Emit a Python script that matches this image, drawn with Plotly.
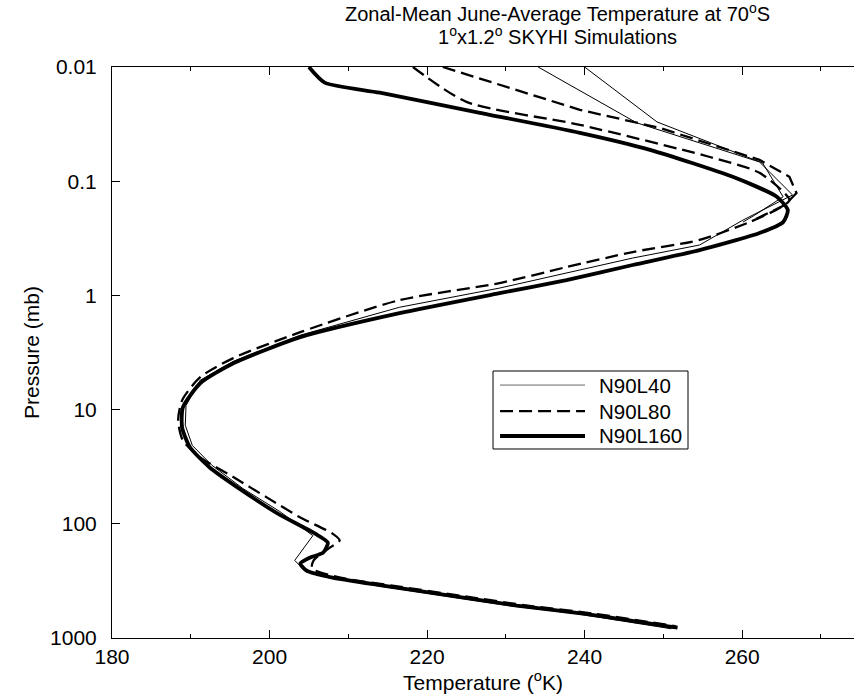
import plotly.graph_objects as go

# ---------------- data ----------------
# N90L160 (thick solid)
l160_T = [205.0, 207.0, 214.0, 226.7, 239.4, 248.3, 258.8, 264.4, 265.8, 265.2, 262.2,
          254.6, 246.1, 237.7, 229.2, 216.5, 203.9, 195.4, 191.2, 189.0, 188.9,
          189.9, 192.4, 196.5, 201.0, 205.8, 207.4, 206.8, 205.1, 203.9, 204.7,
          208.0, 214.4, 222.9, 231.4, 239.8, 251.8]
l160_P = [0.010, 0.0137, 0.0168, 0.0252, 0.0377, 0.0531, 0.0916, 0.137, 0.179, 0.228, 0.284,
          0.401, 0.542, 0.734, 0.955, 1.43, 2.32, 3.93, 5.88, 9.55, 14.3,
          21.4, 32.1, 51, 81, 122, 146, 179, 198, 223, 257,
          296, 348, 426, 521, 612, 813]

# N90L80 (dashed) - run a
l80a_T = [218.2, 225.0, 239.4, 255.9, 262.2, 266.0, 264.8, 261.0, 254.6, 246.1,
          237.7, 229.2, 216.5, 203.9, 195.4, 191.2, 188.9, 188.4, 189.0, 191.2,
          195.4, 199.7, 203.9, 208.0, 208.9, 207.7, 205.6, 205.4, 209.0, 215.6,
          224.2, 232.8, 241.2, 251.6]
l80a_P = [0.010, 0.0202, 0.0321, 0.0614, 0.0845, 0.146, 0.171, 0.227, 0.327, 0.417,
          0.565, 0.780, 1.10, 2.10, 3.54, 5.2, 8.3, 12.4, 18.6, 26.2,
          39, 59, 88, 122, 140, 161, 209, 246, 296, 348,
          426, 521, 612, 790]
# N90L80 (dashed) - run b (upper branch)
l80b_T = [222.0, 239.4, 249.5, 262.2, 266.0, 266.9, 265.4, 261.6]
l80b_P = [0.010, 0.0237, 0.0341, 0.065, 0.0916, 0.127, 0.162, 0.217]

# N90L40 (thin solid) - run a
l40a_T = [234.1, 246.6, 262.2, 266.4, 260.1, 254.6, 246.1, 237.7, 229.2, 216.5,
          203.9, 195.4, 191.2, 189.4, 189.3, 190.2, 192.7, 196.6, 201.3, 205.5,
          203.2, 204.2, 207.4, 213.6, 222.0, 230.4, 238.9, 251.0]
l40a_P = [0.010, 0.0308, 0.0678, 0.132, 0.219, 0.362, 0.471, 0.638, 0.863, 1.27,
          2.23, 3.78, 5.53, 9.2, 13.7, 20.6, 30.8, 49, 78, 127,
          209, 246, 296, 348, 426, 521, 612, 830]
# N90L40 (thin solid) - run b (upper branch)
l40b_T = [240.0, 249.2, 262.6, 265.2, 261.6, 260.1]
l40b_P = [0.010, 0.0303, 0.0693, 0.137, 0.198, 0.228]

x_ticks = [180, 200, 220, 240, 260]
y_ticks = [0.01, 0.1, 1, 10, 100, 1000]
y_ticktext = ["0.01", "0.1", "1", "10", "100", "1000"]
legend_names = ["N90L40", "N90L80", "N90L160"]

FONT = "Liberation Sans, Arial, Helvetica, sans-serif"

fig = go.Figure()
fig.add_trace(go.Scatter(x=l40a_T, y=l40a_P, mode="lines", name=legend_names[0],
                         line=dict(color="black", width=1), showlegend=False))
fig.add_trace(go.Scatter(x=l40b_T, y=l40b_P, mode="lines", name=legend_names[0],
                         line=dict(color="black", width=1), showlegend=False))
fig.add_trace(go.Scatter(x=l80a_T, y=l80a_P, mode="lines", name=legend_names[1],
                         line=dict(color="black", width=2.3, dash="13px,6px",
                                   shape="spline", smoothing=0.7), showlegend=False))
fig.add_trace(go.Scatter(x=l80b_T, y=l80b_P, mode="lines", name=legend_names[1],
                         line=dict(color="black", width=2.3, dash="13px,6px"),
                         showlegend=False))
fig.add_trace(go.Scatter(x=l160_T, y=l160_P, mode="lines", name=legend_names[2],
                         line=dict(color="black", width=3.8, shape="spline", smoothing=0.6),
                         showlegend=False))

# ---- manual legend (paper coordinates) ----
L = dict(x0=0.5135, x1=0.7763, y0=0.331, y1=0.4676)
shapes = [dict(type="rect", xref="paper", yref="paper", x0=L["x0"], x1=L["x1"],
               y0=L["y0"], y1=L["y1"], line=dict(color="black", width=1),
               fillcolor="white", layer="above")]
rows_y = [0.443, 0.3975, 0.3538]
styles = [dict(color="#666", width=1), dict(color="black", width=2.3, dash="13px,6px"),
          dict(color="black", width=3.8)]
annotations = []
for name, ry, st in zip(legend_names, rows_y, styles):
    shapes.append(dict(type="line", xref="paper", yref="paper", x0=0.523, x1=0.6375,
                       y0=ry, y1=ry, line=st, layer="above"))
    annotations.append(dict(text=name, xref="paper", yref="paper", x=0.6536, y=ry,
                            xanchor="left", yanchor="middle", showarrow=False,
                            font=dict(family=FONT, size=20.5, color="black")))

annotations.append(dict(text="Zonal-Mean June-Average Temperature at 70<sup>o</sup>S",
                        xref="paper", yref="paper", x=0.601, y=1.0946,
                        xanchor="center", yanchor="middle", showarrow=False,
                        font=dict(family=FONT, size=20, color="black")))
annotations.append(dict(text="1<sup>o</sup>x1.2<sup>o</sup> SKYHI Simulations",
                        xref="paper", yref="paper", x=0.601, y=1.0543,
                        xanchor="center", yanchor="middle", showarrow=False,
                        font=dict(family=FONT, size=20, color="black")))

fig.update_layout(
    width=854, height=696,
    margin=dict(l=112, r=0, t=67, b=58),
    paper_bgcolor="white", plot_bgcolor="white",
    font=dict(family=FONT, size=21, color="black"),
    shapes=shapes, annotations=annotations, showlegend=False,
    xaxis=dict(range=[180, 274.2], tickvals=x_ticks, ticks="inside", ticklen=8,
               tickcolor="black", showline=True, linecolor="black", linewidth=1,
               mirror="ticks", showgrid=False, zeroline=False,
               minor=dict(dtick=10, tick0=180, ticks="inside", ticklen=4,
                          tickcolor="black", showgrid=False),
               title=dict(text="Temperature (<sup>o</sup>K)", standoff=5,
                          font=dict(size=21)),
               tickfont=dict(size=21)),
    yaxis=dict(type="log", range=[3, -2], tickvals=y_ticks, ticktext=y_ticktext,
               ticks="inside", ticklen=8, tickcolor="black", showline=True,
               linecolor="black", linewidth=1, mirror=False, showgrid=False,
               zeroline=False, ticklabelstandoff=10,
               title=dict(text="Pressure (mb)", standoff=4, font=dict(size=21)),
               tickfont=dict(size=21)),
)

fig.write_html("out.html")
